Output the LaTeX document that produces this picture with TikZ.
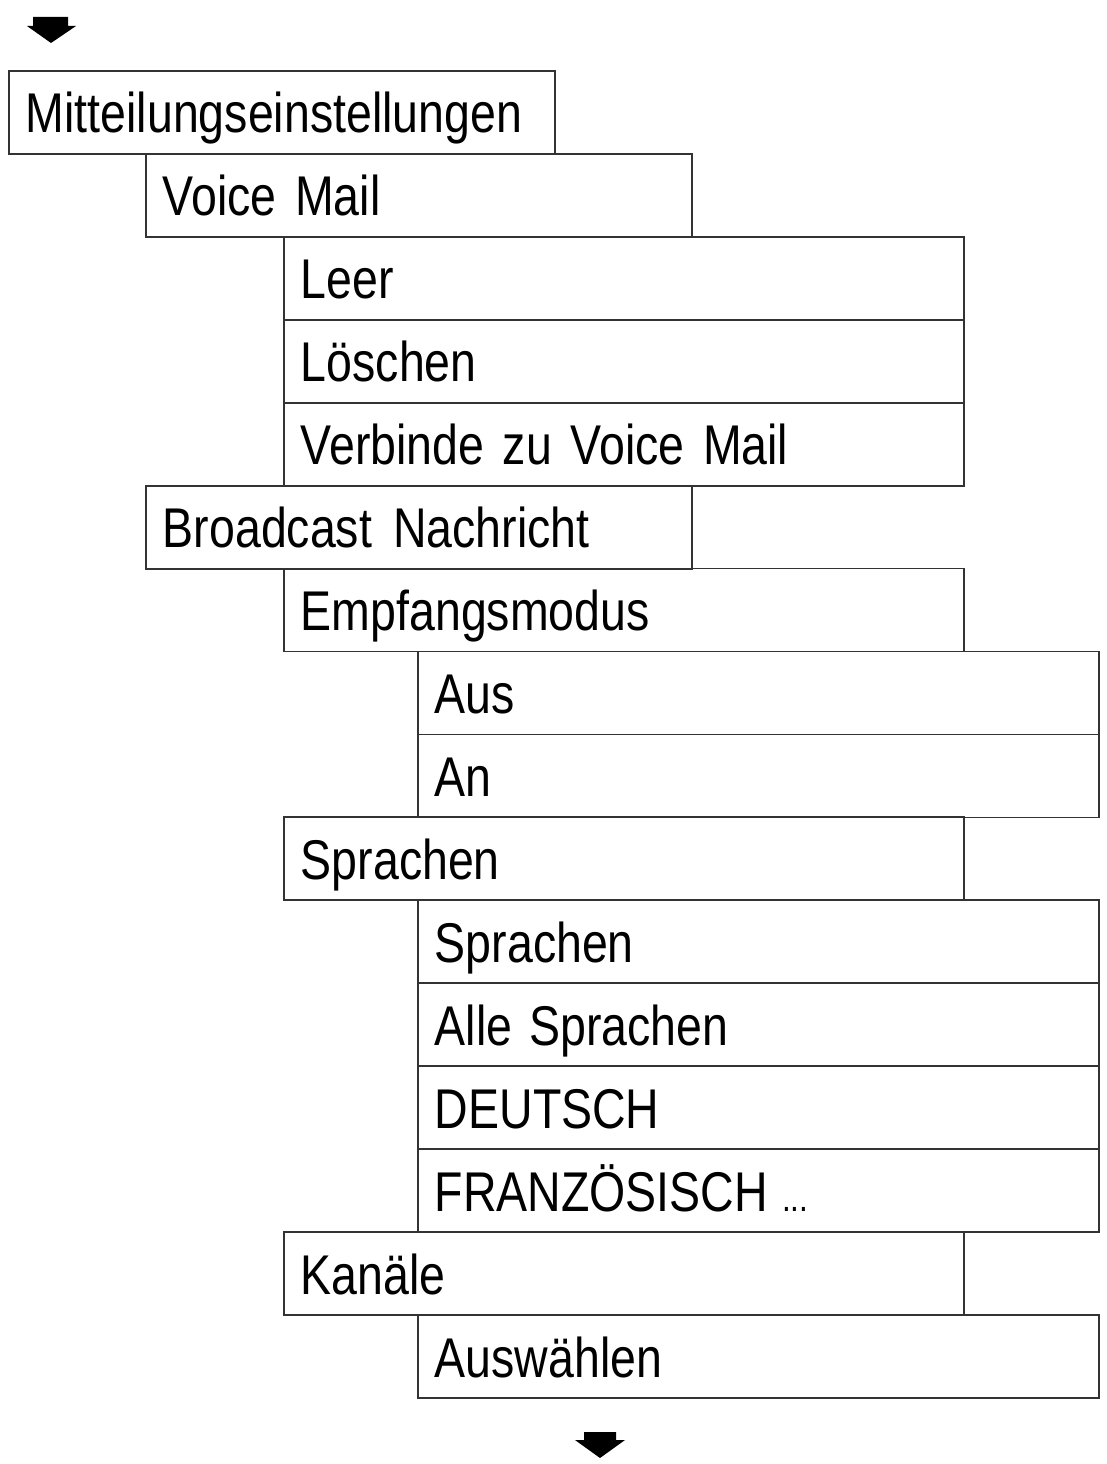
\documentclass[tikz,border=0pt]{standalone}
\usepackage{fontspec}
\setmainfont[FakeStretch=0.83]{Liberation Sans}
\definecolor{linegray}{HTML}{333333}
\tikzset{
  menubox/.style={draw=linegray, line width=1.8pt, anchor=north west,
    minimum height=83pt, inner xsep=17pt, inner ysep=0pt,
    text height=62pt, text depth=21pt, align=left,
    font=\fontsize{56}{60}\selectfont},
  lvA/.style={menubox, minimum width=546pt, text width=512pt},
  lvB/.style={menubox, minimum width=546pt, text width=512pt},
  lvC/.style={menubox, minimum width=680pt, text width=646pt},
  lvD/.style={menubox, minimum width=681pt, text width=647pt},
  blockarrow/.style={fill=black, draw=none}
}
\begin{document}
\begin{tikzpicture}[x=1pt,y=-1pt]
\useasboundingbox (0,0) rectangle (1107,1464);
\def\rh{82.94}
\node[lvA] (n0) at (8,{70+0*\rh}) {Mitteilungseinstellungen};
\node[lvB] (n1) at (145,{70+1*\rh}) {Voice Mail};
\node[lvC] (n2) at (283,{70+2*\rh}) {Leer};
\node[lvC] (n3) at (283,{70+3*\rh}) {Löschen};
\node[lvC] (n4) at (283,{70+4*\rh}) {Verbinde zu Voice Mail};
\node[lvB] (n5) at (145,{70+5*\rh}) {Broadcast\hspace{21pt}Nachricht};
\node[lvC] (n6) at (283,{70+6*\rh}) {Empfangsmodus};
\node[lvD] (n7) at (417,{70+7*\rh}) {Aus};
\node[lvD] (n8) at (417,{70+8*\rh}) {An};
\node[lvC] (n9) at (283,{70+9*\rh}) {Sprachen};
\node[lvD] (n10) at (417,{70+10*\rh}) {Sprachen};
\node[lvD] (n11) at (417,{70+11*\rh}) {Alle\hspace{17pt}Sprachen};
\node[lvD] (n12) at (417,{70+12*\rh}) {DEUTSCH};
\node[lvD] (n13) at (417,{70+13*\rh}) {FRANZÖSISCH\hspace{14pt}{\fontsize{38}{40}\selectfont ...}};
\node[lvC] (n14) at (283,{70+14*\rh}) {Kanäle};
\node[lvD] (n15) at (417,{70+15*\rh}) {Auswählen};
% block arrows
\fill[blockarrow] (33,17) -- (68,17) -- (68,26) -- (76,26) -- (51,43) -- (27,26) -- (33,26) -- cycle;
\fill[blockarrow] (584,1432) -- (616,1432) -- (616,1440) -- (625,1440) -- (600,1458) -- (575,1440) -- (584,1440) -- cycle;
\end{tikzpicture}
\end{document}
